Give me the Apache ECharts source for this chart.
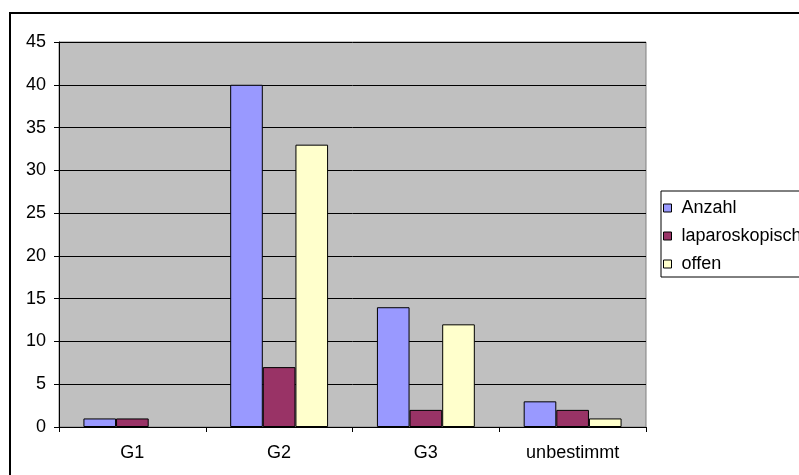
<!DOCTYPE html>
<html>
<head>
<meta charset="utf-8">
<script src="https://cdn.jsdelivr.net/npm/echarts@6/dist/echarts.min.js"></script>
<style>
  html, body { margin: 0; padding: 0; background: #fff; }
  #chart { width: 799px; height: 475px; }
</style>
</head>
<body>
<div id="chart"></div>
<script>
// Tumour grading: number of cases and surgical approach
const categories = ['G1', 'G2', 'G3', 'unbestimmt'];
const anzahl = [1, 40, 14, 3];
const laparoskopisch = [1, 7, 2, 2];
const offen = [0, 33, 12, 1];
const seriesNames = ['Anzahl', 'laparoskopisch', 'offen'];
const seriesColors = ['#9999FF', '#993366', '#FFFFCC'];

const FONT = '"Liberation Sans", Arial, sans-serif';
const chart = echarts.init(document.getElementById('chart'), null, { renderer: 'canvas' });

function barSeries(name, data, color) {
  return {
    name: name,
    type: 'bar',
    // zero-height bars are left out entirely
    data: data.map(v => (v === 0 ? '-' : v)),
    barGap: '0%',
    barCategoryGap: '33.3%',
    itemStyle: { color: color, borderColor: '#000', borderWidth: 1 },
    emphasis: { disabled: true }
  };
}

chart.setOption({
  animation: false,
  backgroundColor: '#fff',
  textStyle: { fontFamily: FONT },
  grid: {
    left: 59, top: 42, right: 153, bottom: 48,
    show: true, backgroundColor: '#C0C0C0', borderColor: '#808080', borderWidth: 1
  },
  graphic: [{
    type: 'rect',
    z: -1,
    shape: { x: 10, y: 13, width: 900, height: 600 },
    style: { fill: 'none', stroke: '#000', lineWidth: 2 }
  }],
  legend: {
    orient: 'vertical',
    left: 661, top: 191,
    padding: [8, 20, 4, 2],
    itemWidth: 8, itemHeight: 8, itemGap: 10,
    icon: 'rect',
    borderColor: '#000', borderWidth: 1,
    textStyle: { fontFamily: FONT, fontSize: 18, color: '#000', padding: [0, 0, 0, 5] },
    itemStyle: { borderColor: '#000', borderWidth: 1 },
    data: seriesNames
  },
  xAxis: {
    type: 'category',
    data: categories,
    axisLine: { lineStyle: { color: '#000', width: 1 } },
    axisTick: { show: true, length: 5, lineStyle: { color: '#000' } },
    axisLabel: { color: '#000', fontSize: 18, margin: 17, fontFamily: FONT },
    splitLine: { show: false }
  },
  yAxis: {
    type: 'value',
    min: 0, max: 45, interval: 5,
    axisLine: { show: true, lineStyle: { color: '#000', width: 1 } },
    axisTick: { show: true, length: 5, lineStyle: { color: '#000' } },
    axisLabel: { color: '#000', fontSize: 18, margin: 13, fontFamily: FONT },
    splitLine: { show: true, lineStyle: { color: '#000', width: 1 } }
  },
  series: [
    barSeries(seriesNames[0], anzahl, seriesColors[0]),
    barSeries(seriesNames[1], laparoskopisch, seriesColors[1]),
    barSeries(seriesNames[2], offen, seriesColors[2])
  ]
});
</script>
</body>
</html>
